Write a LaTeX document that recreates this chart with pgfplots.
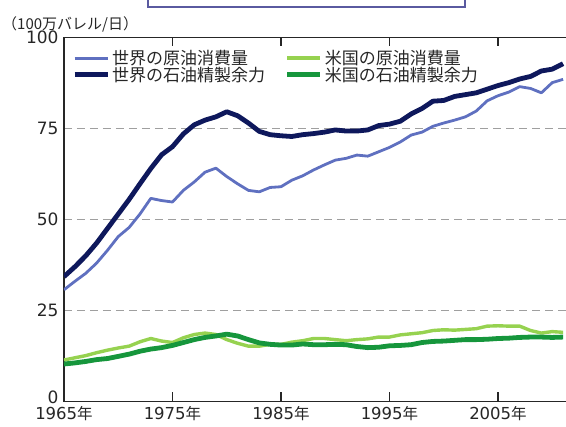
\documentclass[border=0pt]{standalone}
\usepackage{pgfplots}
\usepackage{pgfplotstable}
\pgfplotsset{compat=1.18}
\usepackage{fontspec}
\setmainfont{DejaVu Sans}
\newfontfamily\cjk{Noto Sans CJK JP}
\definecolor{wcons}{RGB}{95,112,192}
\definecolor{wref}{RGB}{14,24,92}
\definecolor{ucons}{RGB}{150,210,80}
\definecolor{uref}{RGB}{22,150,60}
\definecolor{boxc}{RGB}{90,90,160}

\pgfplotstableread{
year wc wr uc ur
1965 30.7 34.3 11.4 10.3
1966 33.0 37.0 12.0 10.6
1967 35.2 40.0 12.6 11.0
1968 38.0 43.5 13.4 11.5
1969 41.5 47.5 14.1 11.8
1970 45.3 51.5 14.7 12.4
1971 47.8 55.5 15.2 13.0
1972 51.5 59.8 16.4 13.8
1973 55.8 64.0 17.3 14.4
1974 55.2 67.8 16.6 14.8
1975 54.8 70.0 16.2 15.4
1976 58.0 73.5 17.5 16.2
1977 60.3 76.0 18.4 17.0
1978 63.0 77.3 18.8 17.6
1979 64.1 78.2 18.4 18.0
1980 61.8 79.6 17.0 18.5
1981 59.8 78.5 16.0 18.0
1982 58.0 76.5 15.2 17.0
1983 57.6 74.2 15.2 16.1
1984 58.8 73.3 15.7 15.7
1985 59.0 73.0 15.7 15.5
1986 60.8 72.8 16.3 15.5
1987 62.0 73.3 16.7 15.8
1988 63.6 73.6 17.3 15.6
1989 65.0 74.0 17.3 15.6
1990 66.3 74.6 17.0 15.7
1991 66.8 74.3 16.7 15.6
1992 67.7 74.3 17.0 15.1
1993 67.4 74.6 17.2 14.8
1994 68.6 75.8 17.7 14.9
1995 69.8 76.2 17.7 15.3
1996 71.3 77.0 18.3 15.4
1997 73.2 79.0 18.6 15.6
1998 74.0 80.5 18.9 16.2
1999 75.6 82.5 19.5 16.5
2000 76.5 82.7 19.7 16.6
2001 77.3 83.8 19.6 16.8
2002 78.2 84.3 19.8 17.0
2003 79.8 84.8 20.0 17.0
2004 82.6 85.8 20.7 17.1
2005 84.0 86.8 20.8 17.3
2006 85.0 87.6 20.7 17.4
2007 86.5 88.6 20.7 17.6
2008 86.0 89.3 19.5 17.7
2009 84.8 90.8 18.8 17.7
2010 87.6 91.3 19.2 17.6
2011 88.5 92.8 19.0 17.7
}\datatable

\begin{document}
\begin{tikzpicture}[x=1pt,y=1pt]
\useasboundingbox (0,0) rectangle (566,427);
\draw[color=boxc, line width=2pt] (148,440) -- (148,420) -- (465,420) -- (465,440);
\begin{axis}[
  at={(64pt,25.5pt)}, anchor=south west, scale only axis,
  width=542.5pt, height=364pt,
  xmin=1965, xmax=2015, ymin=0, ymax=100,
  xtick={1965,1975,1985,1995,2005},
  xticklabels={{1965{\cjk\fontsize{15.5}{15.5}\selectfont 年}},{1975{\cjk\fontsize{15.5}{15.5}\selectfont 年}},{1985{\cjk\fontsize{15.5}{15.5}\selectfont 年}},{1995{\cjk\fontsize{15.5}{15.5}\selectfont 年}},{2005{\cjk\fontsize{15.5}{15.5}\selectfont 年}}},
  ytick={25,50,75,100},
  extra y ticks={0},
  extra y tick style={yticklabel style={yshift=4pt}, ymajorgrids=false},
  ymajorgrids,
  grid style={gray!75, line width=1.1pt, dash pattern=on 8pt off 5pt},
  tick align=inside,
  xtick style={black!85, line width=1.4pt},
  major tick length=9pt,
  ytick style={draw=none},
  axis line style={black!85, line width=1.6pt},
  tick label style={font=\fontsize{17}{17}\selectfont, text=black!85},
  /pgf/number format/assume math mode=true,
  yticklabel style={xshift=-2pt, inner ysep=0pt},
  xticklabel style={font=\fontsize{16.5}{16.5}\selectfont, yshift=-4.5pt, inner ysep=0.5pt},
  legend columns=2,
  legend cell align=left,
  legend style={draw=none, fill=none, inner sep=0pt,
    at={(axis description cs:0.0148,0.967)}, anchor=north west,
    font=\cjk\fontsize{17}{17}\selectfont, text=black!85,
    row sep=0pt,
    /tikz/every even column/.append style={column sep=18pt},
    nodes={inner xsep=2pt, inner ysep=0.5pt}},
  legend image code/.code={\draw[#1] (0pt,0pt) -- (33pt,0pt);},
]
\addplot[wcons, line width=2.8pt, line join=round] table[x=year, y=wc] {\datatable};
\addlegendentry{世界の原油消費量}
\addplot[ucons, line width=3.4pt, line join=round] table[x=year, y=uc] {\datatable};
\addlegendentry{米国の原油消費量}
\addplot[wref, line width=4.8pt, line join=round] table[x=year, y=wr] {\datatable};
\addlegendentry{世界の石油精製余力}
\addplot[uref, line width=4.8pt, line join=round] table[x=year, y=ur] {\datatable};
\addlegendentry{米国の石油精製余力}
\end{axis}
\node[anchor=west, inner sep=0pt, font=\cjk\fontsize{15}{15}\selectfont, text=black!85] at (2,403) {（100万バレル/日）};
\end{tikzpicture}
\end{document}
